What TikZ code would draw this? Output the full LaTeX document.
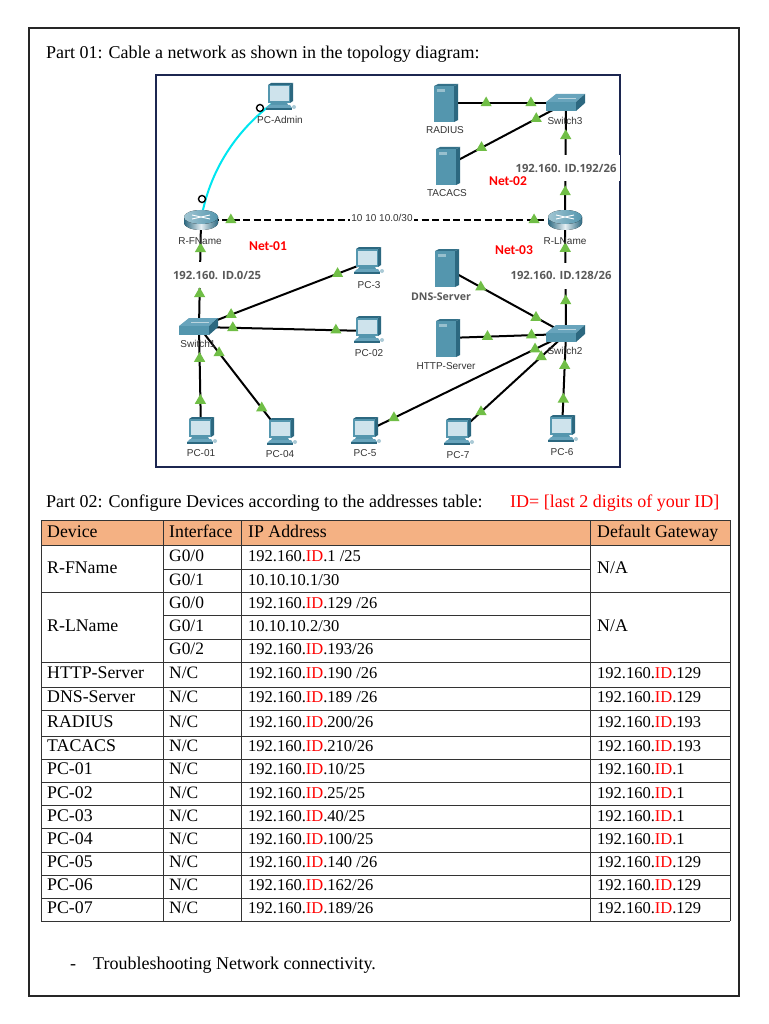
\documentclass[tikz,border=0pt]{standalone}
\usepackage{fontspec}
\setmainfont{Liberation Serif}
\newfontfamily\iconfont{Liberation Sans}
\newfontfamily\ipfont{Open Sans}
\newfontfamily\netfont{Carlito}
\usetikzlibrary{shapes.geometric}
\definecolor{idred}{RGB}{255,0,0}
\definecolor{headfill}{RGB}{244,177,131}
\definecolor{navy}{RGB}{28,38,80}
\definecolor{ledgreen}{RGB}{112,190,70}
\definecolor{teal}{RGB}{84,150,174}
\definecolor{tealdark}{RGB}{44,104,128}
\definecolor{tealtop}{RGB}{104,164,188}
\definecolor{screen}{RGB}{206,227,236}
\definecolor{ipgray}{RGB}{89,89,89}
\definecolor{console}{RGB}{0,230,240}
\newcommand{\idr}{\textcolor{idred}{ID}}
\newcommand{\ipa}[1]{192.160.\idr.#1}
\tikzset{
	lnk/.style={line width=2pt,black},
	led/.style={regular polygon,regular polygon sides=3,fill=ledgreen,minimum size=13pt,inner sep=0pt},
	devname/.style={font=\iconfont\fontsize{10}{10}\selectfont,inner sep=0pt,text=black!80},
	ipbox/.style={font=\ipfont\bfseries\fontsize{11.3}{12}\selectfont,text=ipgray,fill=white,inner sep=0pt},
	netname/.style={font=\netfont\bfseries\fontsize{13.5}{14}\selectfont,text=idred,inner sep=0pt},
	endmark/.style={circle,draw=black,line width=1.4pt,fill=white,minimum size=7pt,inner sep=0pt},
	cell/.style={anchor=base west,inner sep=0pt,yshift=-5.5pt,font=\fontsize{16.5}{17}\selectfont},
	bigcell/.style={cell,font=\fontsize{17.8}{18}\selectfont},
	plain/.style={anchor=base west,inner sep=0pt,font=\fontsize{18}{18}\selectfont},
	rule/.style={line width=0.9pt,black!80},
	pcicon/.pic={
		\fill[tealdark] (10,-13) -- (13,-15) -- (13,3) -- (10,5) -- cycle;
		\fill[tealdark] (-12,-13) -- (-9,-15) -- (13,-15) -- (10,-13) -- cycle;
		\fill[teal] (-12,-13) rectangle (10,5);
		\fill[screen] (-10.5,-11.5) rectangle (8.5,3);
		\fill[teal] (-9,5) -- (7,5) -- (8,7) -- (-10,7) -- cycle;
		\fill[tealtop] (-14,10) -- (-11,7) -- (10,7) -- (12,10) -- cycle;
		\fill[tealdark] (-14,10) rectangle (12,12);
		\fill[teal!50!white] (14,9) circle (2);
	},
	srvicon/.pic={
		\fill[tealdark] (9,-17) -- (13,-19) -- (13,17) -- (9,19) -- cycle;
		\fill[tealdark!80!teal] (-11,-17) -- (-7,-19) -- (13,-19) -- (9,-17) -- cycle;
		\fill[teal] (-11,-17) rectangle (9,19);
		\fill[teal!60!white] (-8,-14) rectangle (0,-11);
	},
	rtricon/.pic={
		\fill[left color=tealdark,right color=tealdark,middle color=white!85!teal] (-17,-3) -- (-17,3) arc (180:0:17 and 7) -- (17,-3) -- cycle;
		\fill[left color=teal!55!white,right color=teal] (0,-3) ellipse (17 and 7);
		\draw[white,line width=0.9pt] (-9,-5) -- (9,-1) (-9,-1) -- (9,-5);
	},
	swticon/.pic={
		\fill[tealtop] (-20,-1) -- (-10,-9) -- (19,-9) -- (10,-1) -- cycle;
		\fill[teal] (-20,-1) rectangle (10,8);
		\fill[tealdark] (10,-1) -- (19,-9) -- (19,0) -- (10,8) -- cycle;
		\draw[white!60!teal,line width=0.6pt] (-8,-5) -- (10,-5);
	},
}
\begin{document}
\begin{tikzpicture}[x=1pt,y=-1pt]
	\useasboundingbox (0,0) rectangle (768,1024);
	\fill[white] (0,0) rectangle (768,1024);
	\draw[line width=2pt,black!85] (29,28) rectangle (739,996);

	\node[plain] (partA) at (46,59) {Part 01: Cable a network as shown in the topology diagram:};
	\node[plain] (partB) at (46,507) {Part 02: Configure Devices according to the addresses table:};
	\node[plain,text=idred] (idnote) at (510,507) {ID= [last 2 digits of your ID]};

	% topology
	\draw[line width=2pt,navy] (156,75) rectangle (620,467);
	\foreach \nm/\x/\y in {pcAdmin/280/98,rF/201/220,rL/565/220,swA/199/327,swB/566/334,swC/566/103,
		radius/445/103,tacacs/447/166,dns/446/268,http/447/338,pcA/201/432,pcB/368/331,pcC/368/262,
		pcD/281/433,pcE/365/432,pcF/562/430,pcG/458/433}
		\coordinate (\nm) at (\x,\y);

	\def\linklist{radius/swC/0.34/0.71,tacacs/swC/0.29/0.75,swC/rL/0.28/0.76,rF/swA/0.27/0.69,rL/swB/0.25/0.71,
		swA/pcA/0.30/0.70,swA/pcD/0.245/0.765,swA/pcC/0.19/0.82,swA/pcB/0.20/0.81,
		swB/pcE/0.154/0.856,swB/pcG/0.23/0.787,swB/pcF/0.33/0.68,swB/dns/0.25/0.71,swB/http/0.29/0.66}
	\foreach \a/\b/\p/\q in \linklist
		\draw[lnk] (\a) -- (\b);
	\draw[lnk,dash pattern=on 7pt off 3.5pt] (rF) -- (rL);
	\draw[console,line width=2pt] (rF) .. controls (209,172) and (236,128) .. (pcAdmin);

	\foreach \x/\y in {280/98,201/432,368/331,368/262,281/433,365/432,562/430,458/433}
		\pic at (\x,\y) {pcicon};
	\foreach \x/\y in {445/103,447/166,446/268,447/338}
		\pic at (\x,\y) {srvicon};
	\foreach \x/\y in {201/220,565/220}
		\pic at (\x,\y) {rtricon};
	\foreach \x/\y in {199/327,566/334,566/103}
		\pic at (\x,\y) {swticon};

	\node[endmark] (markA) at (260,108) {};
	\node[endmark] (markB) at (202,199) {};

	% text on the links
	\node[font=\iconfont\fontsize{10}{10}\selectfont,fill=white,inner sep=1.5pt,text=black!80] (wan) at (382,218) {10 10 10.0/30};
	\node[ipbox,minimum width=103pt,minimum height=26pt] (netA) at (217,275) {192.160. ID.0/25};
	\node[ipbox,minimum width=107pt,minimum height=26pt] (netC) at (566,168) {192.160. ID.192/26};
	\node[ipbox,minimum width=107pt,minimum height=26pt] (netB) at (561,275.5) {192.160. ID.128/26};

	\foreach \a/\b/\p/\q in \linklist
		\path (\a) -- (\b) node[led,pos=\p] (ledA\a\b) {} node[led,pos=\q] (ledB\a\b) {};
	\path (rF) -- (rL) node[led,pos=0.082] (ledAwan) {} node[led,pos=0.915] (ledBwan) {};

	\node[netname] (nameA) at (268,246) {Net-01};
	\node[netname] (nameB) at (508,181) {Net-02};
	\node[netname] (nameC) at (514,250) {Net-03};

	\foreach \nm/\x/\y/\txt in {lbAdmin/280/120/PC-Admin,lbF/200/241/R-FName,lbL/565/241/R-LName,lbSwC/565/121/Switch3,
		lbSwA/198/344/Switch1,lbSwB/565/351/Switch2,lbRad/445/130/RADIUS,lbTac/447/193/TACACS,lbHttp/446/366/HTTP-Server,
		lbA/201/453/PC-01,lbB/369/353/PC-02,lbC/369/285/PC-3,lbD/280/454/PC-04,lbE/365/453/PC-5,lbF6/562/452/PC-6,lbG/458/455/PC-7}
		\node[devname] (\nm) at (\x,\y) {\txt};
	\node[font=\ipfont\bfseries\fontsize{10.6}{11}\selectfont,text=ipgray,inner sep=0pt] (lbDns) at (441,297) {DNS-Server};

	% table
	\fill[headfill] (41,520) rectangle (730,545);
	\foreach \yy in {520,545,592,662,687,710,736,759,782,805,828,852,875,898,921}
		\draw[rule] (41,\yy) -- (730,\yy);
	\foreach \yy in {569,615,639}
		\draw[rule] (163,\yy) -- (590,\yy);
	\foreach \xx in {41,163,241.5,590,730}
		\draw[rule] (\xx,520) -- (\xx,921);

	\node[bigcell] (hdDev) at (47,532) {Device};
	\node[bigcell] (hdIf) at (169,532) {Interface};
	\node[bigcell] (hdIp) at (248,532) {IP Address};
	\node[bigcell] (hdGw) at (597,532) {Default Gateway};

	\node[bigcell] (devF) at (47,568) {R-FName};
	\node[bigcell] (devL) at (47,626) {R-LName};
	\node[bigcell] (naF) at (597,568) {N/A};
	\node[bigcell] (naL) at (597,626) {N/A};
	\foreach \ifc/\addr/\yy [count=\i] in {{G0/0}/{\ipa{1 /25}}/556,{G0/1}/{10.10.10.1/30}/580,{G0/0}/{\ipa{129 /26}}/603,
		{G0/1}/{10.10.10.2/30}/626,{G0/2}/{\ipa{193/26}}/649}{
		\node[cell,font=\fontsize{17.4}{18}\selectfont] (ifc\i) at (169,\yy) {\ifc};
		\node[cell] (adr\i) at (248,\yy) {\addr};
	}
	\foreach \dev/\addr/\gw/\yy [count=\i] in {HTTP-Server/{190 /26}/129/673,DNS-Server/{189 /26}/129/697,RADIUS/{200/26}/193/722,
		TACACS/{210/26}/193/746,PC-01/{10/25}/1/769,PC-02/{25/25}/1/793,PC-03/{40/25}/1/816,PC-04/{100/25}/1/839,
		PC-05/{140 /26}/129/862,PC-06/{162/26}/129/885,PC-07/{189/26}/129/908}{
		\node[bigcell] (dev\i) at (47,\yy) {\dev};
		\node[cell,font=\fontsize{17.4}{18}\selectfont] (nc\i) at (169,\yy) {N/C};
		\node[cell] (ip\i) at (248,\yy) {\ipa{\addr}};
		\node[cell] (gw\i) at (597,\yy) {\ipa{\gw}};
	}

	\node[plain] (dash) at (70,969) {-};
	\node[plain] (trouble) at (93,969) {Troubleshooting Network connectivity.};
\end{tikzpicture}
\end{document}
